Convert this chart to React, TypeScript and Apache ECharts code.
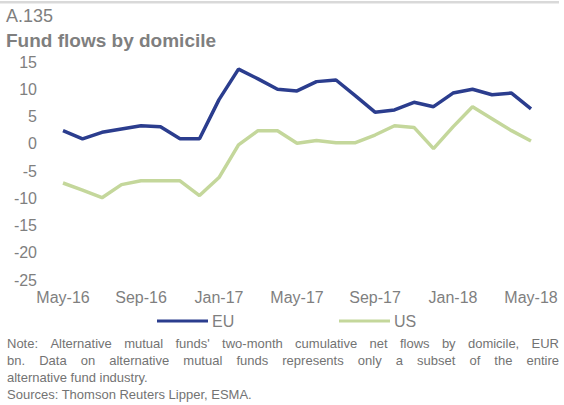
import React, { useEffect, useRef } from "react";
import * as echarts from "echarts";

const months = [
  "May-16", "Jun-16", "Jul-16", "Aug-16", "Sep-16", "Oct-16", "Nov-16", "Dec-16",
  "Jan-17", "Feb-17", "Mar-17", "Apr-17", "May-17", "Jun-17", "Jul-17", "Aug-17",
  "Sep-17", "Oct-17", "Nov-17", "Dec-17", "Jan-18", "Feb-18", "Mar-18", "Apr-18", "May-18",
];
const euValues = [2.4, 0.9, 2.1, 2.7, 3.3, 3.1, 0.9, 0.9, 8.1, 13.7, 11.9, 10.0, 9.7, 11.4, 11.7, 8.8, 5.8, 6.2, 7.6, 6.8, 9.3, 10.0, 9.0, 9.3, 6.4];
const usValues = [-7.2, -8.5, -9.9, -7.5, -6.8, -6.8, -6.8, -9.5, -6.2, -0.2, 2.4, 2.4, 0.1, 0.6, 0.2, 0.2, 1.6, 3.3, 3.0, -0.9, 3.1, 6.8, 4.6, 2.4, 0.5];

const chartCode = "A.135";
const chartTitle = "Fund flows by domicile";
const noteLines = [
  { text: "Note: Alternative mutual funds' two-month cumulative net flows by domicile, EUR", justify: true },
  { text: "bn. Data on alternative mutual funds represents only a subset of the entire", justify: true },
  { text: "alternative fund industry.", justify: false },
  { text: "Sources: Thomson Reuters Lipper, ESMA.", justify: false },
];

const FONT = "'Liberation Sans', Arial, sans-serif";
const GRAY = "#7f7f7f";
const NOTE_GRAY = "#737373";
const EU_COLOR = "#2b3d8e";
const US_COLOR = "#c4d79b";

function buildNote(): any[] {
  const canvas = document.createElement("canvas");
  const ctx = canvas.getContext("2d")!;
  const size = 13;
  ctx.font = `${size}px 'Liberation Sans'`;
  const left = 7;
  const right = 559;
  const top = 343;
  const lh = 17;
  const els: any[] = [];
  noteLines.forEach((ln, i) => {
    const y = top + i * lh;
    if (!ln.justify) {
      els.push({ type: "text", x: left, y, style: { text: ln.text, font: `${size}px ${FONT}`, fill: NOTE_GRAY, textVerticalAlign: "middle" } });
      return;
    }
    const words = ln.text.split(" ");
    const widths = words.map((w) => ctx.measureText(w).width);
    const total = widths.reduce((a, b) => a + b, 0);
    const gap = (right - left - total) / (words.length - 1);
    let x = left;
    words.forEach((w, k) => {
      els.push({ type: "text", x, y, style: { text: w, font: `${size}px ${FONT}`, fill: NOTE_GRAY, textVerticalAlign: "middle" } });
      x += widths[k] + gap;
    });
  });
  return els;
}

export default function App() {
  const ref = useRef<HTMLDivElement>(null);
  useEffect(() => {
    if (!ref.current) return;
    const chart = echarts.init(ref.current, null, { renderer: "svg" });
    const option: any = {
      animation: false,
      textStyle: { fontFamily: FONT },
      grid: { left: 63, right: 33, top: 62, bottom: 125, containLabel: false },
      legend: [
        {
          data: ["EU"], left: 152, top: 308, icon: "rect", itemWidth: 51, itemHeight: 3, itemGap: 0,
          textStyle: { color: GRAY, fontSize: 16, fontFamily: FONT, padding: [0, 0, 0, -1] },
        },
        {
          data: ["US"], left: 334, top: 308, icon: "rect", itemWidth: 51, itemHeight: 3, itemGap: 0,
          textStyle: { color: GRAY, fontSize: 16, fontFamily: FONT, padding: [0, 0, 0, -1] },
        },
      ],
      xAxis: {
        type: "category",
        data: months,
        boundaryGap: false,
        axisLine: { show: false },
        axisTick: { show: false },
        axisLabel: { interval: 3, color: GRAY, fontSize: 16, fontFamily: FONT, margin: 9 },
        splitLine: { show: false },
      },
      yAxis: {
        type: "value",
        min: -25,
        max: 15,
        interval: 5,
        axisLine: { show: false },
        axisTick: { show: false },
        splitLine: { show: false },
        axisLabel: { color: GRAY, fontSize: 16, fontFamily: FONT, margin: 26 },
      },
      series: [
        { name: "EU", type: "line", data: euValues, symbol: "none", lineStyle: { color: EU_COLOR, width: 3.5 }, itemStyle: { color: EU_COLOR } },
        { name: "US", type: "line", data: usValues, symbol: "none", lineStyle: { color: US_COLOR, width: 3.5 }, itemStyle: { color: US_COLOR } },
      ],
      graphic: [
        { type: "rect", shape: { x: 0, y: 1, width: 559, height: 2.5 }, style: { fill: "#d9d9d9" } },
        { type: "text", x: 6, y: 16, style: { text: chartCode, font: `18px ${FONT}`, fill: GRAY, textVerticalAlign: "middle" } },
        { type: "text", x: 6, y: 40, style: { text: chartTitle, font: `bold 19px ${FONT}`, fill: GRAY, textVerticalAlign: "middle" } },
        ...buildNote(),
      ],
    };
    chart.setOption(option);
    return () => chart.dispose();
  }, []);
  return <div ref={ref} style={{ width: 564, height: 405, position: "absolute", left: 0, top: 0 }} />;
}
